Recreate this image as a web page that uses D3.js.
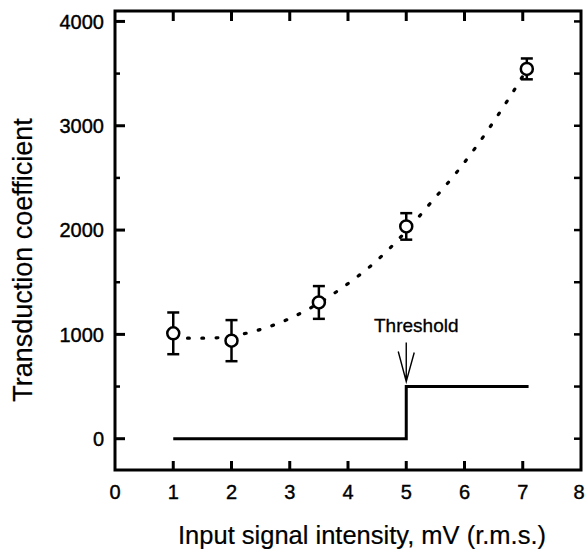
<!DOCTYPE html>
<html>
<head>
<meta charset="utf-8">
<script src="https://cdn.jsdelivr.net/npm/d3@7"></script>
<style>
  body { margin: 0; background: #fff; }
  text { font-family: "Liberation Sans", Arial, Helvetica, sans-serif; fill: #000; }
</style>
</head>
<body>
<div class="board"></div>
<script>
// measured points with error bars
var pointX = [1, 2, 3.5, 5, 7.07];
var pointY = [1010, 940, 1306, 2035, 3545];
var pointErr = [200, 197, 157, 127, 100];

// dotted fit curve
var curveX = [1.0, 1.25, 1.6, 2.18, 2.61, 3.06, 3.5, 3.98, 4.44, 5.0, 5.47, 5.86, 6.2, 6.5, 6.8, 7.07];
var curveY = [972, 964, 964, 1002, 1067, 1168, 1300, 1479, 1680, 1990, 2294, 2550, 2799, 3039, 3295, 3540];

// threshold step
var stepX = [1, 5, 7.1];
var stepY = [0, 500, 500];

var xTicks = [0, 1, 2, 3, 4, 5, 6, 7, 8];
var yTicks = [0, 1000, 2000, 3000, 4000];
var yMinor = [500, 1500, 2500, 3500];

var boardInfo = {
  width: 585,
  height: 552
};

var svg = d3.select(".board").append("svg")
  .attr("width", boardInfo.width)
  .attr("height", boardInfo.height);

var x = d3.scaleLinear().domain([0, 8]).range([115, 581]);
var y = d3.scaleLinear().domain([-300, 4100]).range([470, 11]);

// frame
svg.append("rect")
  .attr("x", x(0)).attr("y", y(4100))
  .attr("width", x(8) - x(0)).attr("height", y(-300) - y(4100))
  .attr("fill", "none").attr("stroke", "#000").attr("stroke-width", 3);

// x ticks, bottom and top, pointing in
var xInner = xTicks.slice(1, -1);
svg.selectAll(".xtb").data(xInner).enter().append("line")
  .attr("x1", function(d) { return x(d); }).attr("x2", function(d) { return x(d); })
  .attr("y1", y(-300)).attr("y2", y(-300) - 9)
  .attr("stroke", "#000").attr("stroke-width", 3);
svg.selectAll(".xtt").data(xInner).enter().append("line")
  .attr("x1", function(d) { return x(d); }).attr("x2", function(d) { return x(d); })
  .attr("y1", y(4100)).attr("y2", y(4100) + 10)
  .attr("stroke", "#000").attr("stroke-width", 3);

// y ticks, left major/minor and right
svg.selectAll(".ytl").data(yTicks).enter().append("line")
  .attr("x1", x(0)).attr("x2", x(0) + 10)
  .attr("y1", function(d) { return y(d); }).attr("y2", function(d) { return y(d); })
  .attr("stroke", "#000").attr("stroke-width", 3);
svg.selectAll(".ytm").data(yMinor).enter().append("line")
  .attr("x1", x(0)).attr("x2", x(0) + 5)
  .attr("y1", function(d) { return y(d); }).attr("y2", function(d) { return y(d); })
  .attr("stroke", "#000").attr("stroke-width", 2.5);
svg.selectAll(".ytr").data(yTicks.concat(yMinor)).enter().append("line")
  .attr("x1", x(8)).attr("x2", x(8) - 7)
  .attr("y1", function(d) { return y(d); }).attr("y2", function(d) { return y(d); })
  .attr("stroke", "#000").attr("stroke-width", 2.5);

// tick labels (last one pulled in so it stays on the page)
svg.selectAll(".xl").data(xTicks).enter().append("text")
  .attr("x", function(d, i) { return i == xTicks.length - 1 ? 584.5 : x(d); })
  .attr("y", 499)
  .attr("text-anchor", function(d, i) { return i == xTicks.length - 1 ? "end" : "middle"; })
  .attr("font-size", 20)
  .attr("stroke", "#000").attr("stroke-width", 0.4)
  .text(function(d) { return d; });
svg.selectAll(".yl").data(yTicks).enter().append("text")
  .attr("x", 104)
  .attr("y", function(d) { return y(d); })
  .attr("dy", "0.36em")
  .attr("text-anchor", "end")
  .attr("font-size", 20)
  .attr("stroke", "#000").attr("stroke-width", 0.4)
  .text(function(d) { return d; });

// axis titles
svg.append("text")
  .attr("x", 362).attr("y", 544)
  .attr("text-anchor", "middle")
  .attr("font-size", 25.5)
  .attr("stroke", "#000").attr("stroke-width", 0.2)
  .text("Input signal intensity, mV (r.m.s.)");
svg.append("text")
  .attr("transform", "translate(32,260) rotate(-90)")
  .attr("text-anchor", "middle")
  .attr("font-size", 27)
  .attr("stroke", "#000").attr("stroke-width", 0.2)
  .text("Transduction coefficient");

// step line
var stepLine = d3.line()
  .x(function(d) { return x(d[0]); })
  .y(function(d) { return y(d[1]); })
  .curve(d3.curveStepAfter);
svg.append("path")
  .datum(d3.zip(stepX, stepY))
  .attr("d", stepLine)
  .attr("fill", "none").attr("stroke", "#000").attr("stroke-width", 3);

// threshold label and arrow
var tipY = y(500) - 5;
svg.append("text")
  .attr("x", x(5) + 10).attr("y", 331.5)
  .attr("text-anchor", "middle")
  .attr("font-size", 19)
  .attr("stroke", "#000").attr("stroke-width", 0.3)
  .text("Threshold");
svg.append("path")
  .attr("d", "M" + x(5) + "," + (tipY - 39) + "V" + tipY +
    "M" + (x(5) - 8) + "," + (tipY - 30) + "L" + x(5) + "," + tipY + "L" + (x(5) + 8) + "," + (tipY - 29))
  .attr("fill", "none").attr("stroke", "#000").attr("stroke-width", 1.4);

// dotted curve
var fitLine = d3.line()
  .x(function(d) { return x(d[0]); })
  .y(function(d) { return y(d[1]); })
  .curve(d3.curveMonotoneX);
svg.append("path")
  .datum(d3.zip(curveX, curveY))
  .attr("d", fitLine)
  .attr("fill", "none").attr("stroke", "#000")
  .attr("stroke-width", 3.2).attr("stroke-linecap", "round")
  .attr("stroke-dasharray", "1.8,12.5");

// error bars
var pts = d3.zip(pointX, pointY, pointErr);
var bars = svg.selectAll(".err").data(pts).enter().append("g");
bars.append("line")
  .attr("x1", function(d) { return x(d[0]); }).attr("x2", function(d) { return x(d[0]); })
  .attr("y1", function(d) { return y(d[1] - d[2]); }).attr("y2", function(d) { return y(d[1] + d[2]); })
  .attr("stroke", "#000").attr("stroke-width", 2.5);
bars.append("line")
  .attr("x1", function(d) { return x(d[0]) - 6; }).attr("x2", function(d) { return x(d[0]) + 6; })
  .attr("y1", function(d) { return y(d[1] + d[2]); }).attr("y2", function(d) { return y(d[1] + d[2]); })
  .attr("stroke", "#000").attr("stroke-width", 2.5);
bars.append("line")
  .attr("x1", function(d) { return x(d[0]) - 6; }).attr("x2", function(d) { return x(d[0]) + 6; })
  .attr("y1", function(d) { return y(d[1] - d[2]); }).attr("y2", function(d) { return y(d[1] - d[2]); })
  .attr("stroke", "#000").attr("stroke-width", 2.5);

// open circles
svg.selectAll(".pt").data(pts).enter().append("circle")
  .attr("cx", function(d) { return x(d[0]); })
  .attr("cy", function(d) { return y(d[1]); })
  .attr("r", 6)
  .attr("fill", "#fff").attr("stroke", "#000").attr("stroke-width", 2.5);
</script>
</body>
</html>
